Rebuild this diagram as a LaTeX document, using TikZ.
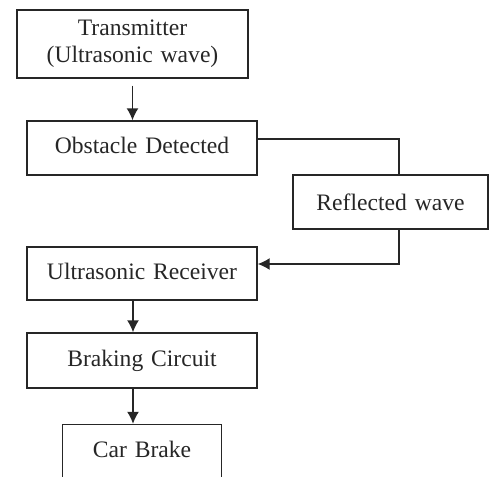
\documentclass[tikz,border=0pt]{standalone}
\usepackage{fontspec}
\setmainfont{Liberation Serif}
\usepackage{tikz}
\usetikzlibrary{arrows.meta,shapes,positioning}

\begin{document}
\begin{tikzpicture}[auto, >={Latex[length=6pt,width=6pt]}, line width=0.7pt,
    block/.style={rectangle, draw=black!85, text=black!85, text width=115pt, text centered, inner sep=0pt, minimum height=27pt, font=\fontsize{11.8}{13.5}\selectfont},
    line/.style={draw=black!85, ->}]

    \useasboundingbox (0,0) rectangle (247pt,-238.5pt);
    \clip (0,0) rectangle (247pt,-238.5pt);

    \node [block, text width=115.5pt, minimum height=34pt] (tx) at (66.25pt,-22pt) {
        Transmitter\\
        (Ultrasonic wave)
    };
    \node [block, below of=tx, node distance=52pt, xshift=4.75pt] (obs) {Obstacle Detected\vphantom{g}};
    \node [block, right of=obs, node distance=124.25pt, yshift=-27pt, text width=97.5pt] (refl) {Reflected wave};
    \node [block, below of=obs, node distance=62.75pt, minimum height=26.5pt] (rx) {Ultrasonic Receiver\vphantom{g}};
    \node [block, below of=rx, node distance=43.5pt, minimum height=27.5pt] (brk) {Braking Circuit};
    \node [block, below of=brk, node distance=45.75pt, text width=79.5pt, minimum height=27.5pt] (car) {Car Brake\vphantom{g}};

    \path [line, shorten <=3.5pt] (tx.south) -- (tx.south |- obs.north);
    \draw [black!85] ([yshift=4.5pt]obs.east) -| ([xshift=4.25pt]refl.north);
    \path [line] ([xshift=4.25pt]refl.south) |- ([yshift=4.75pt]rx.east);
    \path [line] ([xshift=-4.5pt]rx.south) -- ([xshift=-4.5pt]brk.north);
    \path [line] ([xshift=-4.5pt]brk.south) -- ([xshift=-4.5pt]brk.south |- car.north);
\end{tikzpicture}
\end{document}
